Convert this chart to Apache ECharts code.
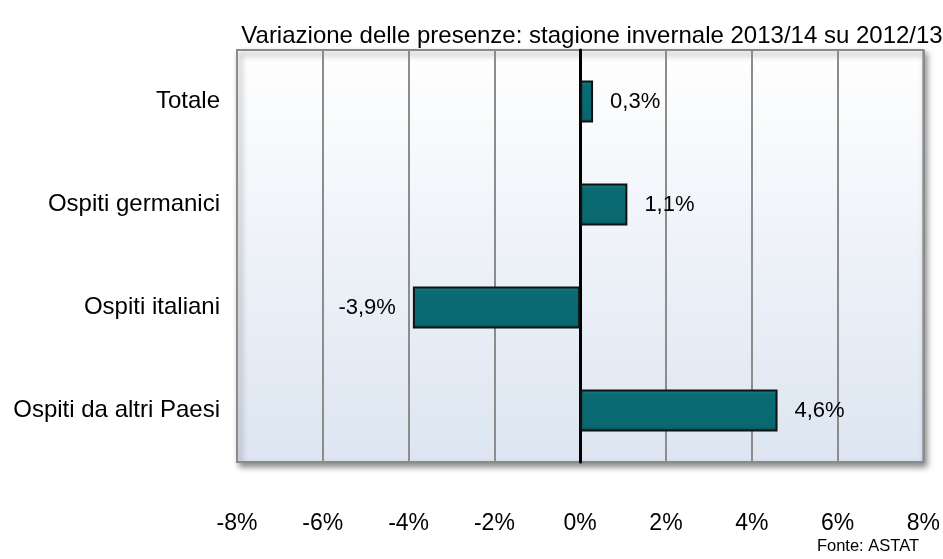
<!DOCTYPE html>
<html>
<head>
<meta charset="utf-8">
<script src="https://cdn.jsdelivr.net/npm/echarts@6/dist/echarts.min.js"></script>
<style>
  html, body { margin: 0; padding: 0; background: #fff; }
  #chart { width: 943px; height: 559px; }
</style>
</head>
<body>
<div id="chart"></div>
<script>
const categories = ["Totale", "Ospiti germanici", "Ospiti italiani", "Ospiti da altri Paesi"]
const variazione = [0.3, 1.1, -3.9, 4.6]
const tickMin = -8
const tickMax = 8
const tickStep = 2

const fontFamily = "'Liberation Sans', Arial, sans-serif"

const chart = echarts.init(document.getElementById("chart"))

// percentuale con la virgola decimale
function fmt(v, digits) {
    return v.toFixed(digits).replace(".", ",") + "%"
}

chart.setOption({
    animation: false,
    title: {
        text: "Variazione delle presenze: stagione invernale 2013/14 su 2012/13",
        left: 587,
        textAlign: "center",
        top: 19,
        textStyle: { fontFamily, fontSize: 24, fontWeight: "normal", color: "#000" },
    },
    graphic: [
        {
            type: "text",
            right: 24,
            top: 538,
            style: { text: "Fonte: ASTAT", font: "16.5px " + fontFamily, fill: "#000" },
        },
    ],
    grid: {
        left: 237,
        right: 18,
        top: 50,
        bottom: 97,
        show: true,
        borderColor: "#8a8a8a",
        borderWidth: 2,
        shadowColor: "rgba(0,0,0,0.45)",
        shadowBlur: 6,
        shadowOffsetX: 3,
        shadowOffsetY: 4,
        backgroundColor: new echarts.graphic.LinearGradient(0, 0, 0, 1, [
            { offset: 0, color: "#ffffff" },
            { offset: 1, color: "#dce5f1" },
        ]),
    },
    xAxis: {
        type: "value",
        min: tickMin,
        max: tickMax,
        interval: tickStep,
        axisLine: { show: false },
        axisTick: { show: false },
        axisLabel: {
            margin: 50,
            fontFamily,
            fontSize: 23,
            color: "#000",
            formatter: v => v + "%",
        },
        splitLine: { show: true, lineStyle: { color: "#8c8c8c", width: 2 } },
    },
    yAxis: {
        type: "category",
        data: categories,
        inverse: true,
        axisLine: { show: true, onZero: true, lineStyle: { color: "#000", width: 3 } },
        axisTick: { show: false },
        axisLabel: {
            margin: 17,
            fontFamily,
            fontSize: 24,
            color: "#000",
        },
        splitLine: { show: false },
    },
    series: [
        {
            type: "bar",
            data: variazione,
            barWidth: "41%",
            itemStyle: {
                color: new echarts.graphic.LinearGradient(0, 0, 0, 1, [
                    { offset: 0, color: "#1f8088" },
                    { offset: 0.12, color: "#0a6b73" },
                    { offset: 0.88, color: "#096770" },
                    { offset: 1, color: "#074f56" },
                ]),
                borderColor: "#111",
                borderWidth: 2,
            },
            label: {
                show: true,
                position: "outside",
                distance: 17,
                fontFamily,
                fontSize: 22,
                color: "#000",
                formatter: p => fmt(p.value, 1),
            },
            z: 3,
        },
    ],
})
</script>
</body>
</html>
